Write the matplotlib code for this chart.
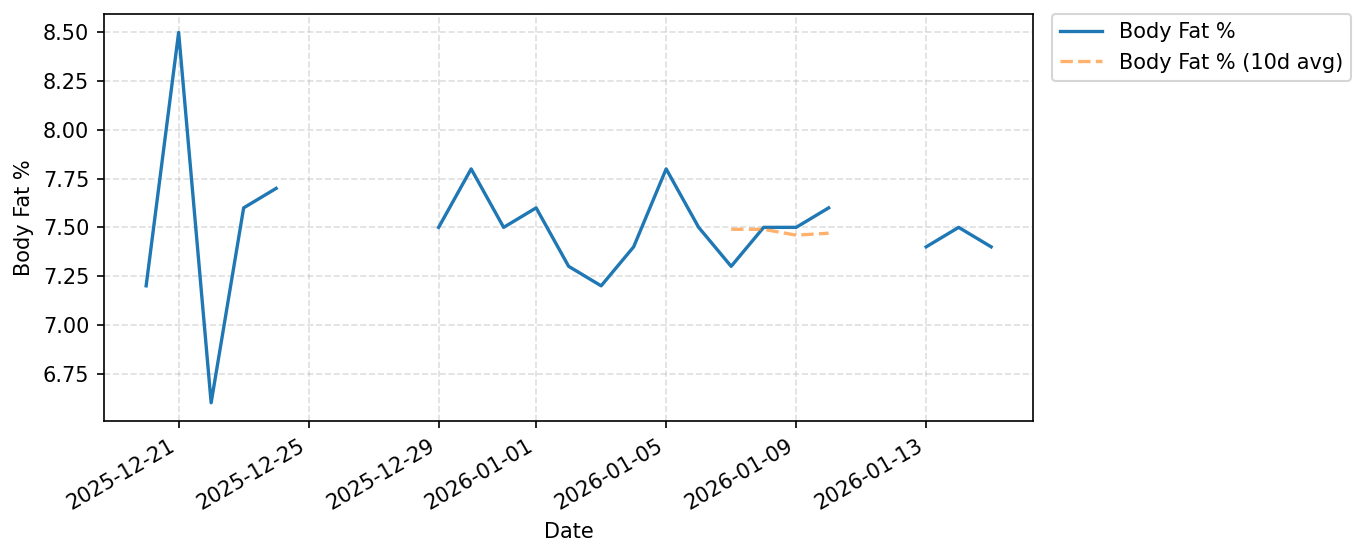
import numpy as np
import pandas as pd
import matplotlib.pyplot as plt
import matplotlib.dates as mdates

# daily body fat readings (NaN = no measurement)
dates = pd.date_range('2025-12-20', '2026-01-15', freq='D')
body_fat = [7.2, 8.5, 6.6, 7.6, 7.7, np.nan, np.nan, np.nan, np.nan,
            7.5, 7.8, 7.5, 7.6, 7.3, 7.2, 7.4, 7.8, 7.5, 7.3, 7.5, 7.5, 7.6,
            np.nan, np.nan, 7.4, 7.5, 7.4]

# 10 day average, only available for a few days
avg_dates = pd.to_datetime(['2026-01-07', '2026-01-08', '2026-01-09', '2026-01-10'])
avg_vals = [7.49, 7.49, 7.46, 7.47]

fig, ax = plt.subplots(figsize=(9.113, 3.72), dpi=150)
ax.plot(dates, body_fat, color='#1f77b4', lw=1.6, label='Body Fat %')
ax.plot(avg_dates, avg_vals, color='#ff7f0e', ls='--', lw=1.6, alpha=0.6,
        label='Body Fat % (10d avg)')

ax.set_xlabel('Date')
ax.set_ylabel('Body Fat %')
ax.set_yticks([6.75, 7.0, 7.25, 7.5, 7.75, 8.0, 8.25, 8.5])
ax.xaxis.set_major_locator(mdates.DayLocator(bymonthday=[1, 5, 9, 13, 21, 25, 29]))
ax.xaxis.set_major_formatter(mdates.DateFormatter('%Y-%m-%d'))
ax.grid(True, ls='--', alpha=0.4)
ax.legend(loc='upper left', bbox_to_anchor=(1.02, 1.0), borderaxespad=0)
fig.autofmt_xdate()

plt.subplots_adjust(left=0.076, right=0.756, top=0.975, bottom=0.245)
plt.savefig('out.png', dpi=150)
